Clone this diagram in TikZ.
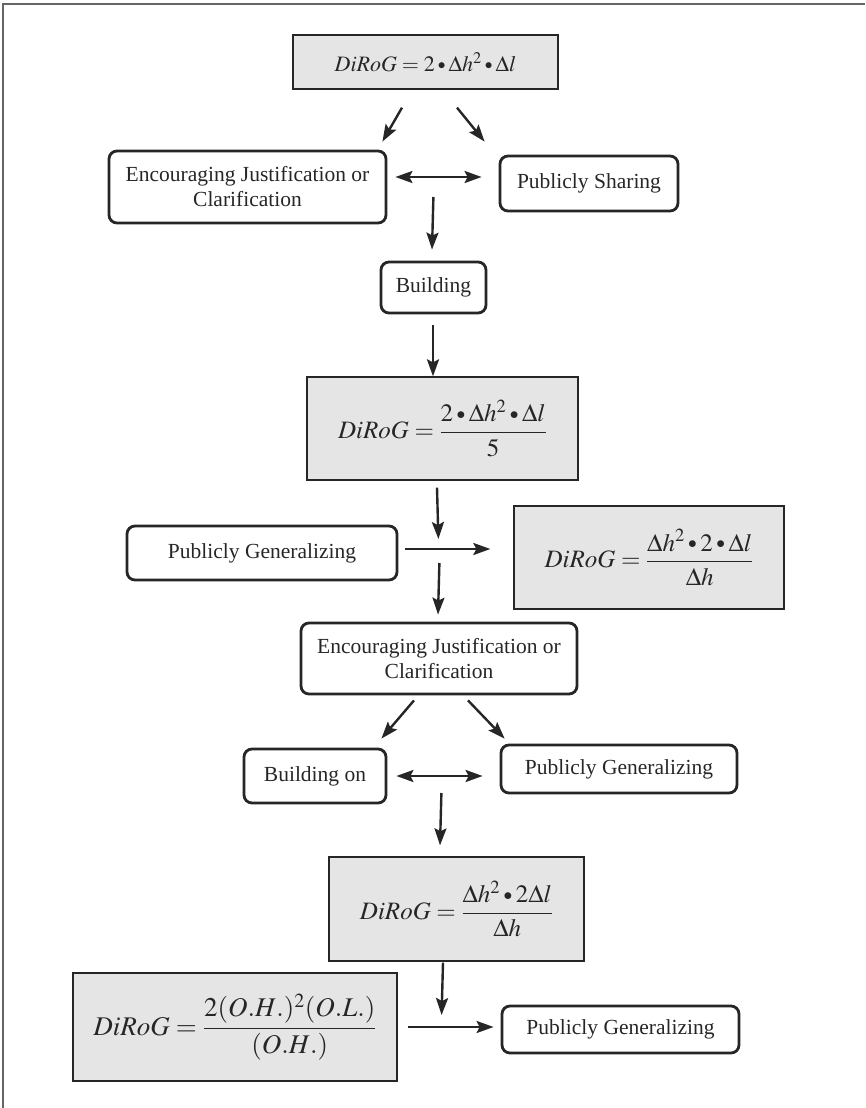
\documentclass[tikz,border=0pt]{standalone}
\usepackage{amsmath}
\usepackage{graphicx}
\usepackage{mathptmx}
\usepackage{fontspec}
\setmainfont{Liberation Serif}
\usetikzlibrary{positioning}
\usetikzlibrary{arrows.meta}

\definecolor{boxGray}{gray}{0.9}
\definecolor{inkGray}{gray}{0.15}
\definecolor{frameGray}{gray}{0.4}

\newcommand{\actFont}{\fontsize{21.5}{25}\selectfont}
\newcommand{\eqFont}[1]{\fontsize{#1}{#1}\selectfont}
\newcommand{\dotOp}{\mathbin{\vcenter{\hbox{\scalebox{0.7}{$\bullet$}}}}}

\tikzset{
	eqBox/.style={rectangle, draw=inkGray, line width=1.3pt, fill=boxGray, inner sep=0pt, text=inkGray},
	actBox/.style={rectangle, rounded corners=8pt, draw=inkGray, line width=2.8pt, inner sep=0pt, align=center, text=inkGray, font=\actFont},
	arr/.style={-{Stealth[length=17pt,width=12pt,inset=3pt]}, line width=2.4pt, draw=inkGray},
	dblArr/.style={{Stealth[length=17pt,width=12pt,inset=3pt]}-{Stealth[length=17pt,width=12pt,inset=3pt]}, line width=2.4pt, draw=inkGray}
}

\begin{document}
\begin{tikzpicture}[x=1pt, y=-1pt]
	\useasboundingbox (0,0) rectangle (865,1108);
	\draw[frameGray, line width=2pt] (3,1108) -- (3,4) -- (865,4);

	% first step
	\node[eqBox, minimum width=265pt, minimum height=54pt, font=\eqFont{22}](topEq) at (425.5,62){$\mathit{DiRoG} = 2 \dotOp \Delta h^{2} \dotOp \Delta l$};
	\node[actBox, minimum width=277pt, minimum height=72pt](ejcOne) at (247.5,187){Encouraging Justification or\\Clarification};
	\node[actBox, minimum width=178pt, minimum height=55pt](shareBox) at (589,183.5){Publicly Sharing};
	\node[actBox, minimum width=105pt, minimum height=51pt](buildBox) at (433.5,287.5){Building};

	\draw[arr] ([xshift=-23.5pt, yshift=-18pt]topEq.south) -- ([xshift=-5pt, yshift=8pt]ejcOne.north east);
	\draw[arr] ([xshift=31.5pt, yshift=-18pt]topEq.south) -- ([xshift=-14pt, yshift=13pt]shareBox.north west);
	\draw[dblArr] ([xshift=8pt, yshift=10pt]ejcOne.east) -- ([xshift=-17pt, yshift=6.5pt]shareBox.west);
	\draw[arr] ([xshift=46pt, yshift=-10pt]ejcOne.east) -- ([xshift=-1.5pt, yshift=11pt]buildBox.north);

	% second step
	\node[eqBox, minimum width=271pt, minimum height=103pt, font=\eqFont{25}](eqTwo) at (442.5,428.5){$\mathit{DiRoG} = \dfrac{2 \dotOp \Delta h^{2} \dotOp \Delta l}{5}$};
	\node[actBox, minimum width=270pt, minimum height=54pt](genOne) at (262,553){Publicly Generalizing};
	\node[eqBox, minimum width=270pt, minimum height=103pt, font=\eqFont{25}](eqThree) at (649,557.5){$\mathit{DiRoG} = \dfrac{\Delta h^{2} \dotOp 2 \dotOp \Delta l}{\Delta h}$};
	\node[actBox, minimum width=276pt, minimum height=71pt](ejcTwo) at (439,658.5){Encouraging Justification or\\Clarification};

	\draw[arr] ([xshift=-0.5pt, yshift=-11pt]buildBox.south) -- ([xshift=-9.5pt]eqTwo.north);
	\draw[arr] ([xshift=-5.5pt, yshift=-7pt]eqTwo.south) -- ([xshift=40pt, yshift=14pt]genOne.east);
	\draw[arr] ([xshift=7pt, yshift=4pt]genOne.east) -- ([xshift=-23pt, yshift=8.5pt]eqThree.west);
	\draw[arr] ([xshift=41pt, yshift=-10pt]genOne.east) -- ([xshift=-1pt, yshift=7pt]ejcTwo.north);

	% third step
	\node[actBox, minimum width=142pt, minimum height=54pt](buildOn) at (315,776){Building on};
	\node[actBox, minimum width=236pt, minimum height=48pt](genTwo) at (619,769){Publicly Generalizing};
	\node[eqBox, minimum width=255pt, minimum height=104pt, font=\eqFont{25}](eqFour) at (456.5,909){$\mathit{DiRoG} = \dfrac{\Delta h^{2} \dotOp 2 \Delta l}{\Delta h}$};
	\node[eqBox, minimum width=324pt, minimum height=108pt, font=\eqFont{27}](eqFive) at (235,1027){$\mathit{DiRoG} = \dfrac{2(O.H.)^{2}(O.L.)}{(O.H.)}$};
	\node[actBox, minimum width=237pt, minimum height=47pt](genThree) at (620.5,1029.5){Publicly Generalizing};

	\draw[arr] ([xshift=-25pt, yshift=-5pt]ejcTwo.south) -- ([xshift=-6pt, yshift=9pt]buildOn.north east);
	\draw[arr] ([xshift=29pt, yshift=-5pt]ejcTwo.south) -- ([xshift=5pt, yshift=5pt]genTwo.north west);
	\draw[dblArr] ([xshift=9pt]buildOn.east) -- ([xshift=-17pt, yshift=-7pt]genTwo.west);
	\draw[arr] ([xshift=54pt, yshift=-17pt]buildOn.east) -- ([xshift=-16.5pt, yshift=11pt]eqFour.north);
	\draw[arr] ([xshift=-13.5pt, yshift=-1pt]eqFour.south) -- ([xshift=-59pt, yshift=14.5pt]genThree.west);
	\draw[arr] ([xshift=10pt]eqFive.east) -- ([xshift=-7pt, yshift=2.5pt]genThree.west);
\end{tikzpicture}
\end{document}
